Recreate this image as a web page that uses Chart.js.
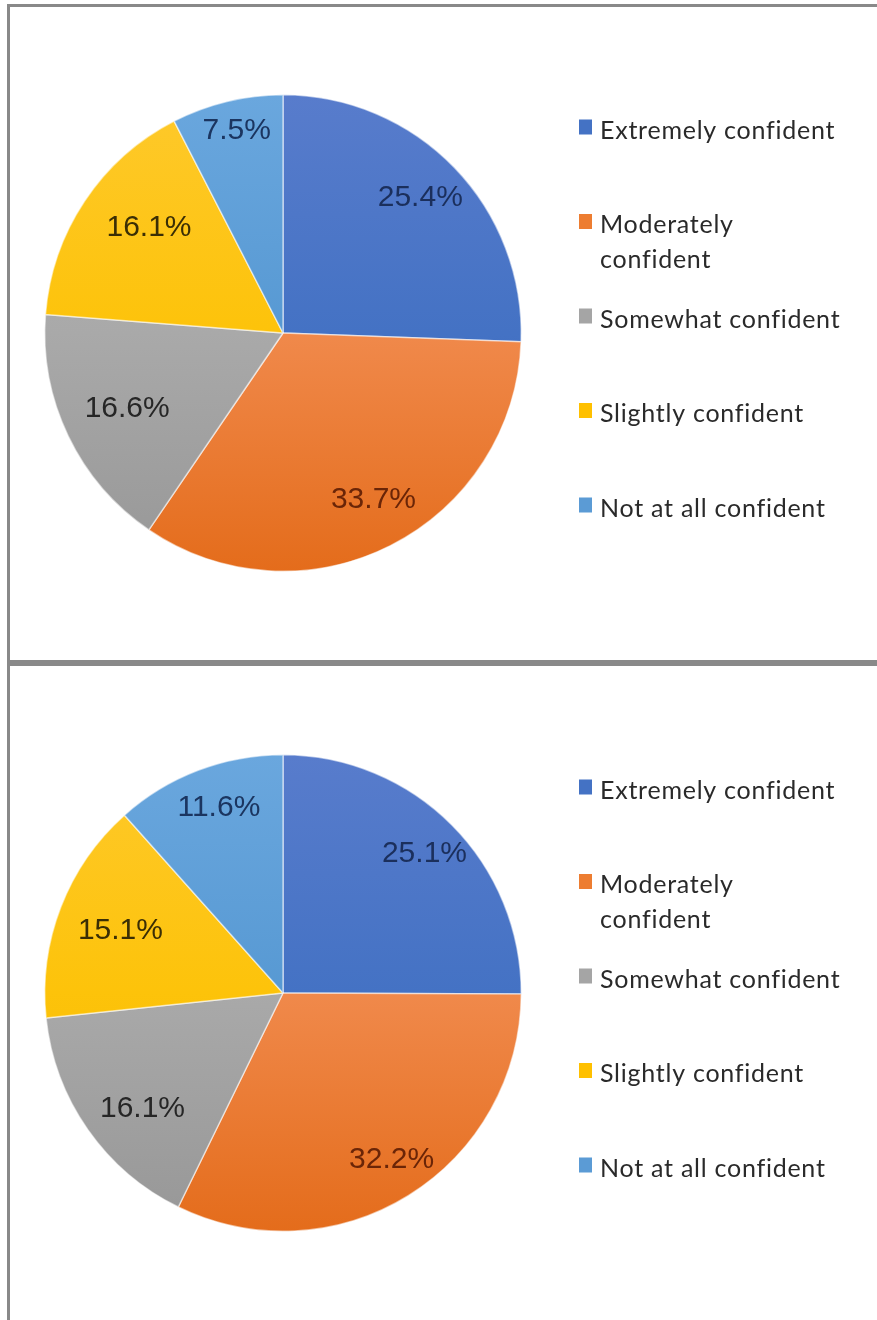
<!DOCTYPE html>
<html>
<head>
<meta charset="utf-8">
<script src="https://cdn.jsdelivr.net/npm/chart.js@4"></script>
<style>
  html, body { margin: 0; padding: 0; background: #ffffff; }
  #page { position: relative; width: 877px; height: 1320px; overflow: hidden; background: #ffffff; }
  .rule { position: absolute; background: #898989; }
  canvas { position: absolute; left: 0; }
</style>
</head>
<body>
<div id="page">
  <canvas id="pieA" width="877" height="660" style="top:0px"></canvas>
  <canvas id="pieB" width="877" height="654" style="top:666px"></canvas>
  <div class="rule" style="left:7px;top:4px;width:870px;height:3px"></div>
  <div class="rule" style="left:7px;top:4px;width:3px;height:1316px"></div>
  <div class="rule" style="left:7px;top:660px;width:870px;height:6px"></div>
</div>
<script>
// Response categories (one wrapped onto two legend lines)
const categories = [
  'Extremely confident',
  ['Moderately', 'confident'],
  'Somewhat confident',
  'Slightly confident',
  'Not at all confident'
];

// Percent of respondents per category
const valuesTop = [25.4, 33.7, 16.6, 16.1, 7.5];
const valuesBottom = [25.1, 32.2, 16.1, 15.1, 11.6];

// Office-style palette: base colour plus light/dark gradient stops
const baseColors = ['#4472C4', '#ED7D31', '#A5A5A5', '#FFC000', '#5B9BD5'];
const gradientStops = [
  ['#587ccc', '#4472C4', '#3462bc'],
  ['#f4a068', '#f0894b', '#e46c1b'],
  ['#b7b7b7', '#a9a9a9', '#979797'],
  ['#fec92c', '#fdc30a', '#f0b600'],
  ['#6aa7de', '#5799d3', '#4a8bcb']
];
const labelColors = ['#1b2f5c', '#6a2507', '#262626', '#3a2e05', '#1b3560'];

// Placement of each percentage label: [angle shift from slice middle (deg), share of radius]
const labelPlaceTop = [[-0.7, 0.81], [-1.7, 0.795], [-0.4, 0.728], [4.6, 0.716], [0.7, 0.871]];
const labelPlaceBottom = [[0.4, 0.832], [-1.2, 0.836], [-4.5, 0.764], [-0.3, 0.73], [1.8, 0.824]];

function sliceFill(ctx) {
  const i = ctx.dataIndex;
  const chart = ctx.chart;
  const area = chart.chartArea;
  if (!area) return baseColors[i];
  const g = chart.ctx.createLinearGradient(0, area.top, 0, area.bottom);
  const s = gradientStops[i];
  g.addColorStop(0, s[0]);
  g.addColorStop(0.5, s[1]);
  g.addColorStop(1, s[2]);
  return g;
}

// Percentage labels placed inside each slice
const sliceLabels = {
  id: 'sliceLabels',
  afterDatasetsDraw(chart, args, opts) {
    const c = chart.ctx;
    const meta = chart.getDatasetMeta(0);
    const values = chart.data.datasets[0].data;
    c.save();
    c.font = opts.font;
    c.textAlign = 'center';
    c.textBaseline = 'middle';
    meta.data.forEach((arc, i) => {
      const p = arc.getProps(['x', 'y', 'startAngle', 'endAngle', 'outerRadius'], true);
      const place = opts.place[i];
      const a = (p.startAngle + p.endAngle) / 2 + place[0] * Math.PI / 180;
      const r = p.outerRadius * place[1];
      c.fillStyle = labelColors[i];
      c.fillText(values[i].toFixed(1) + '%', p.x + Math.cos(a) * r, p.y + Math.sin(a) * r);
    });
    c.restore();
  }
};

// Legend column to the right of the pie
const sideLegend = {
  id: 'sideLegend',
  afterDraw(chart, args, opts) {
    const c = chart.ctx;
    const meta = chart.getDatasetMeta(0);
    const cy = meta.data[0].y;
    c.save();
    c.font = opts.font;
    c.letterSpacing = opts.letterSpacing;
    c.textAlign = 'left';
    c.textBaseline = 'alphabetic';
    chart.data.labels.forEach((lab, i) => {
      const base = cy + opts.firstOffset + i * opts.step;
      c.fillStyle = baseColors[i];
      c.fillRect(opts.boxX, base - 19, 13, 15);
      c.fillStyle = opts.color;
      const lines = Array.isArray(lab) ? lab : [lab];
      lines.forEach((t, k) => c.fillText(t, opts.textX, base + k * opts.lineHeight));
    });
    c.restore();
  }
};

function makePie(id, values, labelPlace, padding) {
  return new Chart(document.getElementById(id), {
    type: 'pie',
    data: {
      labels: categories,
      datasets: [{
        data: values,
        backgroundColor: sliceFill,
        borderColor: 'rgba(255,255,255,0.55)',
        borderWidth: 1.5
      }]
    },
    options: {
      responsive: false,
      animation: false,
      events: [],
      layout: { padding: padding },
      plugins: {
        legend: { display: false },
        tooltip: { enabled: false },
        sliceLabels: { font: '30px "Liberation Sans", Arial, sans-serif', place: labelPlace },
        sideLegend: {
          font: '25px Lato, "Open Sans", sans-serif',
          letterSpacing: '0.75px',
          color: '#2a2a2a',
          boxX: 579,
          textX: 600,
          firstOffset: -194.5,
          step: 94.5,
          lineHeight: 35
        }
      }
    },
    plugins: [sliceLabels, sideLegend]
  });
}

makePie('pieA', valuesTop, labelPlaceTop, { left: 44, top: 94, right: 355, bottom: 88 });
makePie('pieB', valuesBottom, labelPlaceBottom, { left: 44, top: 88, right: 355, bottom: 88 });
</script>
</body>
</html>
